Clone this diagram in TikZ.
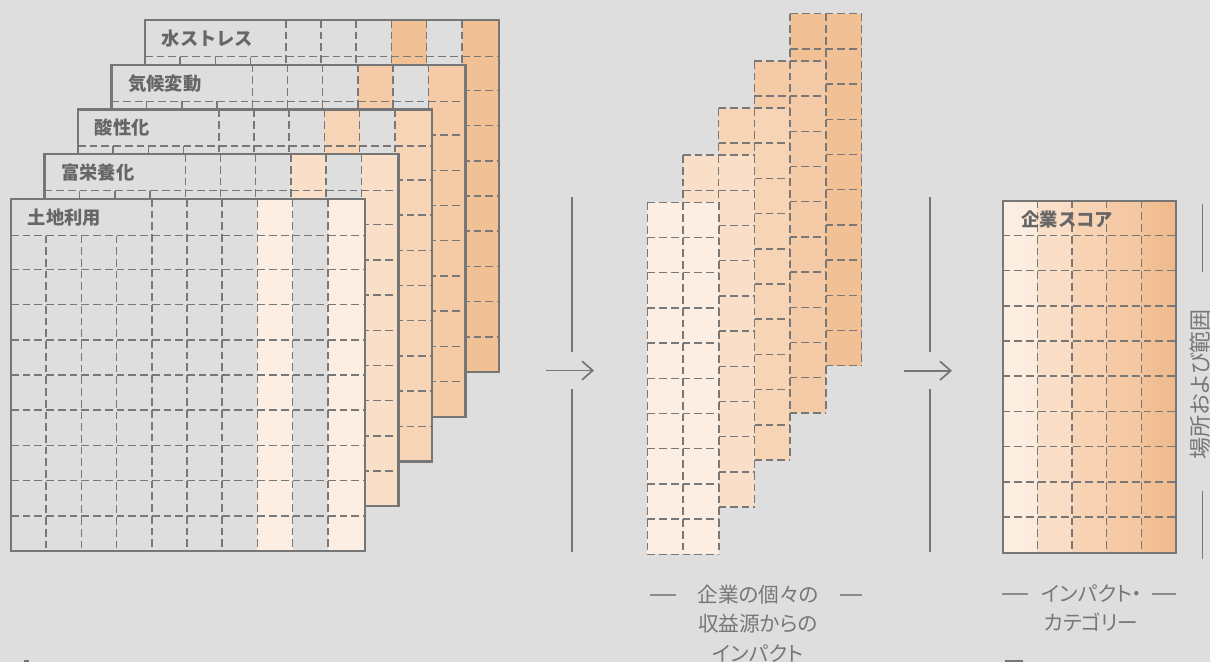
\documentclass[tikz,border=0pt]{standalone}
\usepackage{fontspec}
\newfontfamily\jp{Noto Sans CJK JP}
\newfontfamily\jpp[RawFeature=+palt]{Noto Sans CJK JP}
\usetikzlibrary{arrows.meta}
\definecolor{bg}{HTML}{DEDEDE}
\definecolor{linec}{HTML}{767676}
\definecolor{dashc}{HTML}{787878}
\definecolor{titlec}{HTML}{666666}
\definecolor{labc}{HTML}{777777}
\definecolor{c1}{HTML}{FCEEE2}
\definecolor{c2}{HTML}{FADFC8}
\definecolor{c3}{HTML}{F7D4B5}
\definecolor{c4}{HTML}{F5CAA6}
\definecolor{c5}{HTML}{F2C095}
\definecolor{c6}{HTML}{EFBA8C}
\tikzset{
  griddash/.style={draw=dashc, line width=1.1pt, dash pattern=on 5.8pt off 3pt},
  border/.style={draw=linec, line width=1.6pt},
  ttl/.style={font=\jp\bfseries\fontsize{13.7}{16}\selectfont, text=titlec, inner sep=0pt},
  lbl/.style={font=\jpp\fontsize{15.5}{18}\selectfont, text=labc, inner sep=0pt},
  sepline/.style={draw=linec, line width=1.3pt},
  arrowline/.style={draw=linec, line width=1.3pt, -{Straight Barb[length=8pt,width=14pt]}},
  dashline/.style={draw=labc!80!bg, line width=1pt}
}
\begin{document}
\begin{tikzpicture}[x=0.75pt,y=-0.75pt]
\fill[bg] (0,0) rectangle (1210,662);
\useasboundingbox (0,0) rectangle (1210,662);

% stacked panels
\foreach \i/\ttltext/\col in {4/水ストレス/c5, 3/気候変動/c4, 2/酸性化/c3, 1/富栄養化/c2, 0/土地利用/c1} {
  \pgfmathsetmacro\L{11+33.5*\i}
  \pgfmathsetmacro\T{199-44.75*\i}
  \begin{scope}[shift={(\L,\T)}]
    \fill[bg] (0,0) rectangle (354,352);
    \fill[\col] (246.4,0) rectangle (281.6,352);
    \fill[\col] (316.8,0) rectangle (354,352);
    \draw[griddash] (0,36.5) -- (354,36.5);
    \foreach \k in {2,...,9} \draw[griddash] (0,35.2*\k) -- (354,35.2*\k);
    \foreach \k in {1,2,3} \draw[griddash] (35.2*\k,36.5) -- (35.2*\k,352);
    \foreach \k in {4,...,9} \draw[griddash] (35.2*\k,0) -- (35.2*\k,352);
    \draw[border] (0,0) rectangle (354,352);
    \node[ttl, anchor=west] (p\i) at (16.5,18.5) {\ttltext};
  \end{scope}
}

% separators and arrow 1
\coordinate (aa1) at (572,197);
\coordinate (aa2) at (572,352);
\coordinate (aa3) at (572,389);
\coordinate (aa4) at (572,552);
\coordinate (as1) at (546,370.5);
\coordinate (ae1) at (594,370.5);
\draw[sepline] (aa1) -- (aa2);
\draw[sepline] (aa3) -- (aa4);
\draw[arrowline] (as1) -- (ae1);

% column pairs
\foreach \j/\col in {4/c5,3/c4,2/c3,1/c2,0/c1} {
  \pgfmathsetmacro\L{647.3+35.7*\j}
  \pgfmathsetmacro\T{202.3-47.15*\j}
  \begin{scope}[shift={(\L,\T)}]
    \fill[\col] (0,0) rectangle (71.5,352);
    \foreach \k in {0,...,10} \draw[griddash] (0,35.2*\k) -- (71.5,35.2*\k);
    \foreach \k in {0,1,2} \draw[griddash] (35.75*\k,0) -- (35.75*\k,352);
  \end{scope}
}

% separators and arrow 2
\coordinate (bb1) at (930,197);
\coordinate (bb2) at (930,352);
\coordinate (bb3) at (930,389);
\coordinate (bb4) at (930,552);
\coordinate (bs1) at (904,370.7);
\coordinate (be1) at (952,370.7);
\draw[sepline] (bb1) -- (bb2);
\draw[sepline] (bb3) -- (bb4);
\draw[arrowline] (bs1) -- (be1);

% score panel
\begin{scope}[shift={(1002.7,200.7)}]
  \shade[left color=c1, right color=c1!85!c2] (0,0) rectangle (34.66,352.5);
  \shade[left color=c2, right color=c2!80!c3] (34.66,0) rectangle (69.32,352.5);
  \shade[left color=c3, right color=c3!80!c4] (69.32,0) rectangle (103.98,352.5);
  \shade[left color=c4, right color=c4!75!c5] (103.98,0) rectangle (138.64,352.5);
  \shade[left color=c5!85!c4, right color=c6] (138.64,0) rectangle (173.3,352.5);
  \foreach \k in {1,...,9} \draw[griddash] (0,35.2*\k-0.5) -- (173.3,35.2*\k-0.5);
  \foreach \k in {1,...,4} \draw[griddash] (34.66*\k,0) -- (34.66*\k,352.5);
  \draw[border] (0,0) rectangle (173.3,352.5);
  \node[ttl, anchor=west] (score) at (18.5,18.5) {企業スコア};
\end{scope}

% vertical label
\node[lbl, rotate=90, font=\jpp\fontsize{16.5}{19}\selectfont] (vl) at (1200,384.5) {場所および範囲};
\coordinate (vl1) at (1202.7,204);
\coordinate (vl2) at (1202.7,272);
\coordinate (vl3) at (1202.7,491);
\coordinate (vl4) at (1202.7,559);
\draw[sepline, line width=1.1pt] (vl1) -- (vl2);
\draw[sepline, line width=1.1pt] (vl3) -- (vl4);

% labels below middle
\node[lbl] (m1) at (758,595) {企業の個々の};
\node[lbl] (m2) at (758,624) {収益源からの};
\node[lbl] (m3) at (758,654) {インパクト};
\coordinate (md1) at (650,595);
\coordinate (md2) at (676,595);
\coordinate (md3) at (840,595);
\coordinate (md4) at (862,595);
\draw[dashline] (md1) -- (md2);
\draw[dashline] (md3) -- (md4);

% labels below score
\node[lbl] (s1) at (1092,594) {インパクト・};
\node[lbl] (s2) at (1091,622) {カテゴリー};
\coordinate (sd1) at (1002,594);
\coordinate (sd2) at (1028,594);
\coordinate (sd3) at (1152,594);
\coordinate (sd4) at (1176,594);
\draw[dashline] (sd1) -- (sd2);
\draw[dashline] (sd3) -- (sd4);

% cut-off fragments at bottom edge
\fill[linec] (24,660) rectangle (29,662);
\fill[linec] (1005,659.5) rectangle (1023,662);
\end{tikzpicture}
\end{document}
